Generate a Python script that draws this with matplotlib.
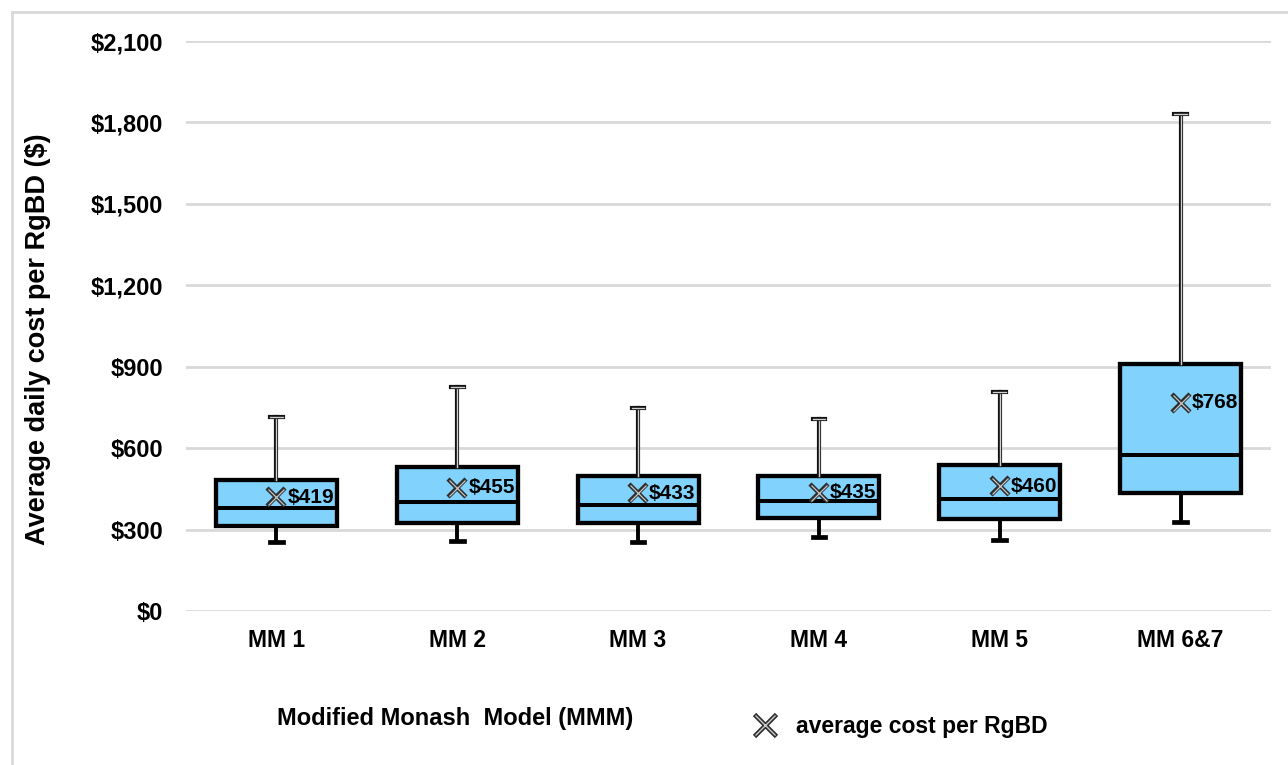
import numpy as np
import matplotlib
matplotlib.use("Agg")
import matplotlib.pyplot as plt
import matplotlib.patheffects as pe
from matplotlib.lines import Line2D
from matplotlib.legend_handler import HandlerTuple
from matplotlib.ticker import FuncFormatter

plt.rcParams["font.family"] = ["Liberation Sans", "DejaVu Sans"]
plt.rcParams["font.weight"] = "bold"

# valores (USD por dia)
modelos = ["MM 1", "MM 2", "MM 3", "MM 4", "MM 5", "MM 6&7"]
minimo = [254, 258, 253, 273, 263, 329]
q1 = [313, 324, 323, 344, 338, 435]
mediana = [381, 403, 391, 406, 414, 575]
q3 = [483, 530, 498, 498, 537, 910]
maximo = [715, 826, 749, 707, 807, 1831]
promedio = [419, 455, 433, 435, 460, 768]
y_ticks = [0, 300, 600, 900, 1200, 1500, 1800, 2100]

azul = "#81d3fd"

fig = plt.figure(figsize=(12.88, 7.65), dpi=100)
ax = fig.add_axes([186 / 1288, 1 - 611 / 765, 1085 / 1288, 570 / 765])

stats = []
for i in range(len(modelos)):
    stats.append({
        "label": modelos[i],
        "whislo": minimo[i],
        "q1": q1[i],
        "med": mediana[i],
        "q3": q3[i],
        "whishi": maximo[i],
        "fliers": [],
    })

pos = np.arange(len(modelos))
art = ax.bxp(
    stats,
    positions=pos,
    widths=0.67,
    capwidths=0.07,
    patch_artist=True,
    showfliers=False,
    boxprops=dict(facecolor=azul, edgecolor="black", linewidth=3.1),
    medianprops=dict(color="black", linewidth=2.9),
    whiskerprops=dict(color="black", linewidth=2.8),
    capprops=dict(color="black", linewidth=3.4),
)

# bigote superior con linea doble (contorno negro, interior claro)
doble = [pe.Stroke(linewidth=3.0, foreground="#111111"), pe.Normal()]
for k in range(len(modelos)):
    w = art["whiskers"][2 * k + 1]
    c = art["caps"][2 * k + 1]
    for l in (w, c):
        l.set_color("#d0d0d0")
        l.set_linewidth(1.0)
        l.set_path_effects(doble)

# marcador del promedio (x doble)
ax.plot(pos, promedio, ls="none", marker="x", ms=13, mew=3.2, color="#2e2e2e", zorder=5)
ax.plot(pos, promedio, ls="none", marker="x", ms=12, mew=0.9, color="#c8c8c8", zorder=6)
for x, v in zip(pos, promedio):
    ax.annotate(f"${v}", (x, v), xytext=(8, 0), textcoords="offset points",
                ha="left", va="center", fontsize=15, fontweight="bold", zorder=7)

ax.set_xlim(-0.5, len(modelos) - 0.5)
ax.set_ylim(0, 2100)
ax.set_yticks(y_ticks)
ax.yaxis.set_major_formatter(FuncFormatter(lambda v, p: f"${v:,.0f}"))
ax.set_xticks(pos)
ax.set_xticklabels(modelos)
ax.tick_params(axis="y", length=0, pad=16.5, labelsize=17)
ax.tick_params(axis="x", length=0, pad=13, labelsize=16.5)
for s in ax.spines.values():
    s.set_visible(False)
ax.yaxis.grid(True, color="#d9d9d9", linewidth=2)
ax.set_axisbelow(True)

fig.text(38 / 1288, 1 - 339 / 765, "Average daily cost per RgBD ($)", rotation=90,
         ha="center", va="center", fontsize=19.5, fontweight="bold")
fig.text(455 / 1288, 1 - 719 / 765, "Modified Monash  Model (MMM)",
         ha="center", va="center", fontsize=17, fontweight="bold")

h1 = Line2D([], [], ls="none", marker="x", ms=16, mew=3.4, color="#2e2e2e")
h2 = Line2D([], [], ls="none", marker="x", ms=15, mew=1.0, color="#c8c8c8")
fig.legend([(h1, h2)], ["average cost per RgBD"], handler_map={tuple: HandlerTuple(ndivide=1)},
           loc="center left", bbox_to_anchor=(727 / 1288, 1 - 727 / 765), frameon=False,
           fontsize=16.5, handlelength=1.5, handletextpad=0.6)

# borde del area del grafico
fig.add_artist(Line2D([12 / 1288, 12 / 1288], [0, 1 - 12 / 765], color="#d9d9d9", lw=2))
fig.add_artist(Line2D([12 / 1288, 1], [1 - 12 / 765, 1 - 12 / 765], color="#d9d9d9", lw=2))

fig.savefig("out.png", dpi=100)
